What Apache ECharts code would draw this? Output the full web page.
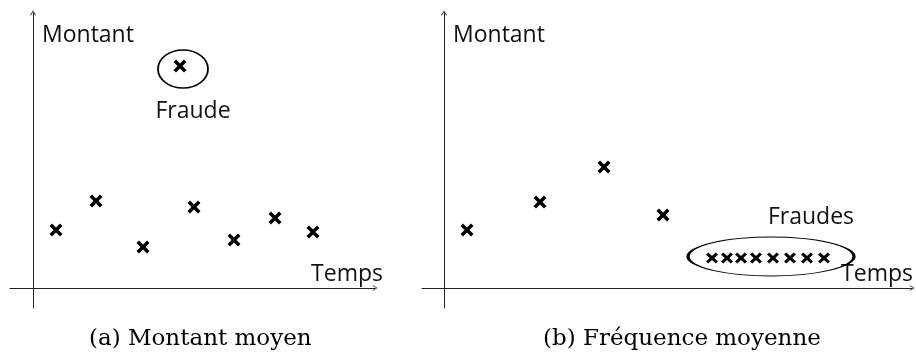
<!DOCTYPE html>
<html>
<head>
<meta charset="utf-8">
<script src="https://cdn.jsdelivr.net/npm/echarts@6/dist/echarts.min.js"></script>
<style>
  html, body { margin: 0; padding: 0; background: #fff; }
  #chart { width: 916px; height: 354px; }
</style>
</head>
<body>
<div id="chart"></div>
<script>
// Panel (a): average amount over time, one outlier
const leftTimes = [2.3, 6.3, 11.0, 16.1, 20.1, 24.2, 28.0];
const leftAmounts = [5.8, 8.7, 4.1, 8.1, 4.8, 7.0, 5.6];
const leftFraudTime = 14.7;
const leftFraudAmount = 22.2;
const leftCircle = [15.0, 21.9];

// Panel (b): average frequency over time, burst of transactions
const rightTimes = [2.3, 9.6, 16.0, 21.9];
const rightAmounts = [5.8, 8.6, 12.1, 7.3];
const rightFraudTimes = [26.8, 28.3, 29.7, 31.2, 32.9, 34.6, 36.3, 38.0];
const rightFraudAmounts = [3.0, 3.0, 3.0, 3.0, 3.0, 3.0, 3.0, 3.0];
const rightCircle = [32.7, 3.15];

const yAxisName = 'Montant';
const xAxisName = 'Temps';
const captions = ['(a) Montant moyen', '(b) Fréquence moyenne'];
const circleLabels = ['Fraude', 'Fraudes'];

const sansFont = '"Open Sans", sans-serif';
const serifFont = '"DejaVu Serif", serif';
const textSize = 23;
const crossPath = 'path://M2.5,0 L6.5,4 L10.5,0 L13,2.5 L9,6.5 L13,10.5 L10.5,13 L6.5,9 L2.5,13 L0,10.5 L4,6.5 L0,2.5 Z';
const arrowPath = 'path://M5,0 L10,8 L8.8,8.7 L5,2.4 L1.2,8.7 L0,8 Z';

const zip = (xs, ys) => xs.map((x, i) => [x, ys[i]]);

const axisLine = {
  show: true,
  onZero: true,
  symbol: ['none', arrowPath],
  symbolSize: [6, 5],
  lineStyle: { color: '#222', width: 1 }
};

function xAxisFor(gridIndex, min, max, gap) {
  return {
    type: 'value', gridIndex, min, max,
    axisLine, axisTick: { show: false }, axisLabel: { show: false },
    splitLine: { show: false },
    name: xAxisName, nameLocation: 'end', nameGap: gap,
    nameTextStyle: {
      fontFamily: sansFont, fontSize: textSize, color: '#111',
      align: 'right', verticalAlign: 'bottom', padding: [0, 0, 2, 0]
    }
  };
}

function yAxisFor(gridIndex) {
  return {
    type: 'value', gridIndex, min: -2, max: 27.5,
    axisLine, axisTick: { show: false }, axisLabel: { show: false },
    splitLine: { show: false },
    name: yAxisName, nameLocation: 'end', nameGap: -11,
    nameTextStyle: {
      fontFamily: sansFont, fontSize: textSize, color: '#111',
      align: 'left', verticalAlign: 'top', padding: [0, 0, 0, 9]
    }
  };
}

function crosses(xIdx, data, size) {
  return {
    type: 'scatter', xAxisIndex: xIdx, yAxisIndex: xIdx,
    symbol: crossPath, symbolSize: size,
    itemStyle: { color: '#000', opacity: 1 },
    data, z: 3, silent: true
  };
}

function circle(xIdx, center, size, text, labelPos, offset, dist) {
  return {
    type: 'scatter', xAxisIndex: xIdx, yAxisIndex: xIdx,
    symbol: 'circle', symbolSize: size,
    itemStyle: { color: 'rgba(0,0,0,0)', borderColor: '#000', borderWidth: 1.6, opacity: 1 },
    label: {
      show: true, formatter: text, position: labelPos, offset,
      distance: dist, opacity: 1,
      fontFamily: sansFont, fontSize: textSize, color: '#111'
    },
    data: [center], z: 2, silent: true
  };
}

const chart = echarts.init(document.getElementById('chart'), null, { renderer: 'canvas' });
chart.setOption({
  backgroundColor: '#fff',
  animation: false,
  title: [
    { text: captions[0], left: 89, top: 328, padding: 0,
      textStyle: { fontFamily: serifFont, fontSize: 23, fontWeight: 'normal', color: '#000' } },
    { text: captions[1], left: 543, top: 328, padding: 0,
      textStyle: { fontFamily: serifFont, fontSize: 23, fontWeight: 'normal', color: '#000' } }
  ],
  grid: [
    { left: 10, right: 541, top: 13, bottom: 46, outerBoundsMode: 'none' },
    { left: 422, right: 4, top: 13, bottom: 46, outerBoundsMode: 'none' }
  ],
  xAxis: [xAxisFor(0, -2.3, 34.2, 8), xAxisFor(1, -2.2, 46.8, 1)],
  yAxis: [yAxisFor(0), yAxisFor(1)],
  series: [
    crosses(0, zip(leftTimes, leftAmounts), 13),
    crosses(0, [[leftFraudTime, leftFraudAmount]], 13),
    circle(0, leftCircle, [50, 38], circleLabels[0], 'bottom', [10, 0], 11),
    crosses(1, zip(rightTimes, rightAmounts), 13),
    crosses(1, zip(rightFraudTimes, rightFraudAmounts), [12, 11]),
    circle(1, rightCircle, [166, 39], circleLabels[1], 'top', [40, 0], 8)
  ]
});
</script>
</body>
</html>
